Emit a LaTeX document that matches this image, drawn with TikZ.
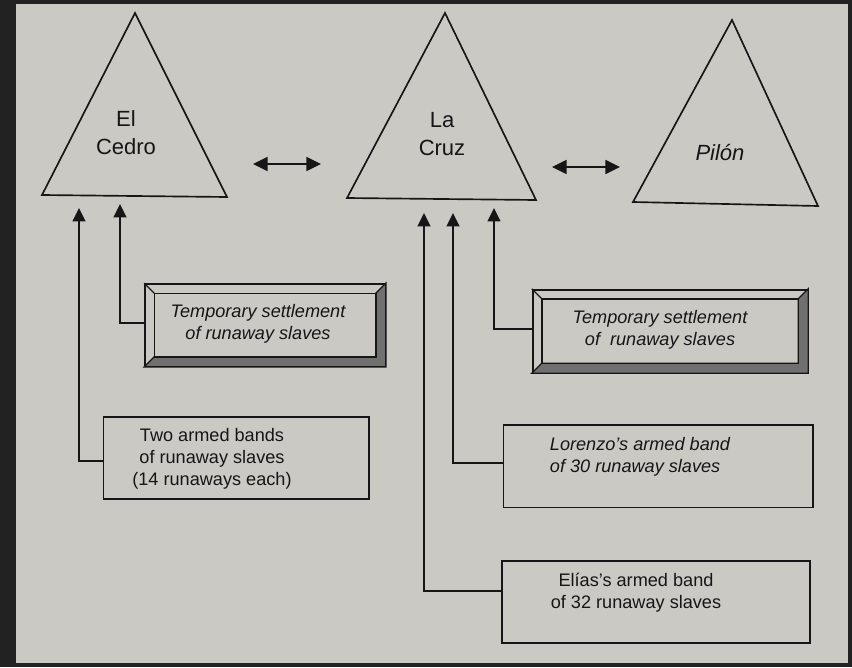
\documentclass[tikz,border=0pt]{standalone}
\usepackage{fontspec}
\setmainfont{Liberation Sans}
\usetikzlibrary{arrows.meta}
\definecolor{paper}{RGB}{203,201,196}
\definecolor{frame}{RGB}{34,34,34}
\definecolor{ink}{RGB}{22,22,22}
\definecolor{halftone}{RGB}{112,112,112}
\begin{document}
\begin{tikzpicture}[x=.75pt,y=-.75pt,line width=1.25pt,color=ink,
		peak/.style={font=\fontsize{16.5}{21}\selectfont,align=center,inner sep=0pt},
		band/.style={draw,rectangle,inner sep=0pt,minimum height=61.5pt},
		bandtext/.style={font=\fontsize{13.6}{16.5}\selectfont,align=center,inner sep=0pt},
		up/.style={-{Triangle[length=10pt,width=9.5pt]}},
		both/.style={{Triangle[length=11pt,width=10.5pt]}-{Triangle[length=11pt,width=10.5pt]}}]
		\useasboundingbox (0,0) rectangle (852,667);
		\fill[frame] (0,0) rectangle (852,667);
		\fill[paper] (16,4) rectangle (848,663);
		
		% the three settlements
		\draw (42,195) -- (135,13) -- (227,197) -- cycle; \node[peak] (cedro) at (126,133) {El\\Cedro};
		\draw (347,198) -- (445,13) -- (536,200) -- cycle; \node[peak] (cruz) at (442,134) {La\\Cruz};
		\draw (633,202) -- (732,20) -- (818,206) -- cycle; \node[peak,font=\fontsize{16.5}{21}\selectfont\itshape] (pilon) at (720,153) {Pil\'on};
		\coordinate (l1) at (253,164); \coordinate (r1) at (321,164); \draw[both] (l1) -- (r1);
		\coordinate (l2) at (552,167); \coordinate (r2) at (620,167); \draw[both] (l2) -- (r2);
		
		% temporary settlements
		\node[band,minimum width=180pt] (tsA) at (265,325) {};
		\node[bandtext,font=\fontsize{13.6}{16.5}\selectfont\itshape] (tsAt) at (258,324) {Temporary settlement\\of runaway slaves};
		\node[band,minimum width=206pt,minimum height=62pt] (tsB) at (670,331) {};
		\node[bandtext,font=\fontsize{13.6}{16.5}\selectfont\itshape] (tsBt) at (660,330) {Temporary settlement\\of~ runaway slaves};
		\foreach \ts in {tsA,tsB} {
			\filldraw[fill=halftone,line width=1pt] (\ts.north east) -- (\ts.south east) -- (\ts.south west) -- ([shift={(7.5pt,7.5pt)}]\ts.south west) -- ([shift={(-7.5pt,7.5pt)}]\ts.south east) -- ([shift={(-7.5pt,-7.5pt)}]\ts.north east) -- cycle;
			\draw[line width=1pt] ([shift={(7.5pt,7.5pt)}]\ts.south west) rectangle ([shift={(-7.5pt,-7.5pt)}]\ts.north east);
			\draw[line width=1pt] (\ts.north west) -- ++(7.5pt,-7.5pt);
		}
		
		% armed bands
		\node[band,minimum width=199pt] (two) at (236,458) {};
		\node[bandtext] (twot) at (212,459) {Two armed bands\\of runaway slaves\\(14 runaways each)};
		\node[band,minimum width=232pt,minimum height=62pt] (lor) at (658,466) {};
		\node[bandtext,font=\fontsize{13.6}{16.5}\selectfont\itshape,align=left] (lort) at (640,457) {Lorenzo's armed band\\of 30 runaway slaves};
		\node[band,minimum width=231pt] (eli) at (656,602) {};
		\node[bandtext] (elit) at (636,593) {El\'ias's armed band\\of 32 runaway slaves};
		
		% who went where
		\coordinate (cA) at (79,208); \coordinate (cB) at (120,204);
		\coordinate (cC) at (424,213); \coordinate (cD) at (453,213); \coordinate (cE) at (494,208);
		\draw[up] ([yshift=-2.2pt]two.west) -| (cA);
		\draw[up] ([yshift=1.5pt]tsA.west) -| (cB);
		\draw[up] ([yshift=8.2pt]eli.west) -| (cC);
		\draw[up] ([yshift=2.4pt]lor.west) -| (cD);
		\draw[up] ([yshift=1.6pt]tsB.west) -| (cE);
\end{tikzpicture}
\end{document}
